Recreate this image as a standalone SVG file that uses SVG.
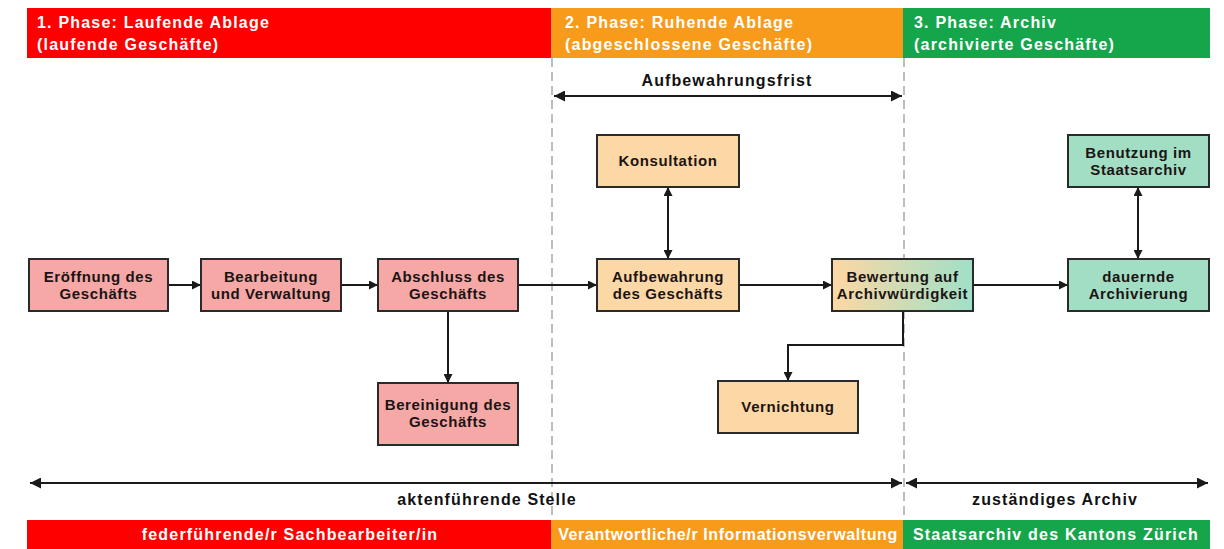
<svg xmlns="http://www.w3.org/2000/svg" width="1224" height="549" viewBox="0 0 1224 549">
<style>
.band{font-family:"Liberation Sans",Arial,sans-serif;font-weight:bold;font-size:16px;letter-spacing:1.2px;fill:#ffffff}
.lbl{font-family:"Liberation Sans",Arial,sans-serif;font-weight:bold;font-size:16px;letter-spacing:1.1px;fill:#111111}
.nt{font-family:"Liberation Sans",Arial,sans-serif;font-weight:bold;font-size:15px;letter-spacing:0.6px;fill:#1c1414;text-anchor:middle}
.box{stroke:#2a2a2a;stroke-width:2}
.pink{fill:#f5a8a6}
.org{fill:#fcd8a6}
.grn{fill:#a2dec4}
.dash{stroke:#a8a8a8;stroke-width:1.5;stroke-dasharray:9 5;fill:none}
.ln{stroke:#1a1a1a;stroke-width:2;fill:none}
.big{stroke:#1a1a1a;stroke-width:2.2;fill:none}
</style>
<defs>
<marker id="ah" viewBox="0 0 10 10" refX="10" refY="5" markerWidth="4.5" markerHeight="4.5" orient="auto-start-reverse" markerUnits="strokeWidth">
<path d="M0,0 L10,5 L0,10 z" fill="#1a1a1a"/>
</marker>
<marker id="bh" viewBox="0 0 10 10" refX="10" refY="5" markerWidth="6" markerHeight="5" orient="auto-start-reverse" markerUnits="strokeWidth">
<path d="M0,0 L10,5 L0,10 z" fill="#1a1a1a"/>
</marker>
<linearGradient id="gBew" x1="0" y1="0" x2="1" y2="0">
<stop offset="0" stop-color="#fdd7a4"/>
<stop offset="1" stop-color="#a0e0c8"/>
</linearGradient>
</defs>
<rect width="1224" height="549" fill="#ffffff"/>

<g id="phase-bands">
<rect x="27" y="8" width="524" height="50" fill="#fe0000"/>
<rect x="551" y="8" width="352" height="50" fill="#f89b1b"/>
<rect x="903" y="8" width="307" height="50" fill="#15a64b"/>
<text class="band" x="37" y="28">1. Phase: Laufende Ablage</text>
<text class="band" x="37" y="50">(laufende Geschäfte)</text>
<text class="band" x="565" y="28">2. Phase: Ruhende Ablage</text>
<text class="band" x="565" y="50">(abgeschlossene Geschäfte)</text>
<text class="band" x="914" y="28">3. Phase: Archiv</text>
<text class="band" x="914" y="50">(archivierte Geschäfte)</text>
</g>

<g id="responsible-bands">
<rect x="27" y="520" width="524" height="29" fill="#fe0000"/>
<rect x="551" y="520" width="352" height="29" fill="#f89b1b"/>
<rect x="903" y="520" width="307" height="29" fill="#15a64b"/>
<text class="band" x="290" y="540" text-anchor="middle">federführende/r Sachbearbeiter/in</text>
<text class="band" x="728" y="540" text-anchor="middle" style="letter-spacing:0.6px">Verantwortliche/r Informationsverwaltung</text>
<text class="band" x="1056" y="540" text-anchor="middle">Staatsarchiv des Kantons Zürich</text>
</g>

<g id="dividers">
<line class="dash" x1="552" y1="58" x2="552" y2="520"/>
<line class="dash" x1="904" y1="58" x2="904" y2="520"/>
</g>

<g id="connectors">
<line class="big" x1="554" y1="96" x2="902" y2="96" marker-start="url(#bh)" marker-end="url(#bh)"/>
<line class="big" x1="30" y1="483" x2="902" y2="483" marker-start="url(#bh)" marker-end="url(#bh)"/>
<line class="big" x1="906" y1="483" x2="1208" y2="483" marker-start="url(#bh)" marker-end="url(#bh)"/>
<line class="ln" x1="168" y1="285" x2="201" y2="285" marker-end="url(#ah)"/>
<line class="ln" x1="341" y1="285" x2="378" y2="285" marker-end="url(#ah)"/>
<line class="ln" x1="518" y1="285" x2="597" y2="285" marker-end="url(#ah)"/>
<line class="ln" x1="448" y1="311" x2="448" y2="383" marker-end="url(#ah)"/>
<line class="ln" x1="668" y1="187" x2="668" y2="259" marker-start="url(#ah)" marker-end="url(#ah)"/>
<line class="ln" x1="739" y1="285" x2="832" y2="285" marker-end="url(#ah)"/>
<line class="ln" x1="972" y1="285" x2="1068" y2="285" marker-end="url(#ah)"/>
<polyline class="ln" points="903,311 903,345 788,345 788,381" marker-end="url(#ah)"/>
<line class="ln" x1="1138" y1="187" x2="1138" y2="259" marker-start="url(#ah)" marker-end="url(#ah)"/>
</g>

<g id="labels">
<text class="lbl" x="727" y="86" text-anchor="middle">Aufbewahrungsfrist</text>
<text class="lbl" x="487" y="505" text-anchor="middle">aktenführende Stelle</text>
<text class="lbl" x="1055" y="505" text-anchor="middle">zuständiges Archiv</text>
</g>

<g id="eroeffnung">
<rect class="box pink" x="29" y="259" width="139" height="52"/>
<text class="nt" x="98.5" y="281.5">Eröffnung des</text>
<text class="nt" x="98.5" y="298.5">Geschäfts</text>
</g>
<g id="bearbeitung">
<rect class="box pink" x="201" y="259" width="140" height="52"/>
<text class="nt" x="271" y="281.5">Bearbeitung</text>
<text class="nt" x="271" y="298.5">und Verwaltung</text>
</g>
<g id="abschluss">
<rect class="box pink" x="378" y="259" width="140" height="52"/>
<text class="nt" x="448" y="281.5">Abschluss des</text>
<text class="nt" x="448" y="298.5">Geschäfts</text>
</g>
<g id="bereinigung">
<rect class="box pink" x="378" y="383" width="140" height="62"/>
<text class="nt" x="448" y="410">Bereinigung des</text>
<text class="nt" x="448" y="427">Geschäfts</text>
</g>
<g id="konsultation">
<rect class="box org" x="597" y="135" width="142" height="52"/>
<text class="nt" x="668" y="166">Konsultation</text>
</g>
<g id="aufbewahrung">
<rect class="box org" x="597" y="259" width="142" height="52"/>
<text class="nt" x="668" y="281.5">Aufbewahrung</text>
<text class="nt" x="668" y="298.5">des Geschäfts</text>
</g>
<g id="bewertung">
<rect class="box" x="832" y="259" width="141" height="52" fill="url(#gBew)"/>
<text class="nt" x="902.5" y="281.5">Bewertung auf</text>
<text class="nt" x="902.5" y="298.5">Archivwürdigkeit</text>
</g>
<g id="vernichtung">
<rect class="box org" x="718" y="381" width="140" height="52"/>
<text class="nt" x="788" y="412">Vernichtung</text>
</g>
<g id="benutzung">
<rect class="box grn" x="1068" y="135" width="141" height="52"/>
<text class="nt" x="1138.5" y="157.5">Benutzung im</text>
<text class="nt" x="1138.5" y="174.5">Staatsarchiv</text>
</g>
<g id="dauernde">
<rect class="box grn" x="1068" y="259" width="141" height="52"/>
<text class="nt" x="1138.5" y="281.5">dauernde</text>
<text class="nt" x="1138.5" y="298.5">Archivierung</text>
</g>
</svg>
